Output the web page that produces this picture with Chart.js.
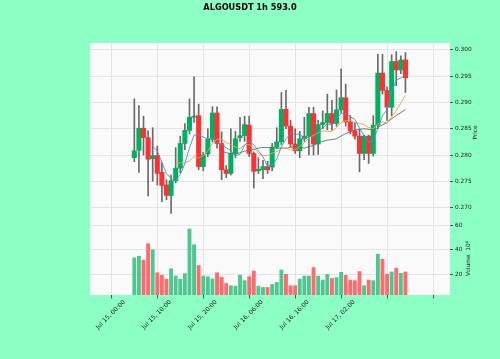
<!DOCTYPE html>
<html>
<head>
<meta charset="utf-8">
<script src="https://cdn.jsdelivr.net/npm/chart.js@4/dist/chart.umd.min.js"></script>
<style>
html,body{margin:0;padding:0;background:#8cffc4;}
canvas{display:block;}
</style>
</head>
<body>
<canvas id="c" width="500" height="359"></canvas>
<script>
const title = 'ALGOUSDT 1h 593.0';
const tickPositions = [0, 10, 20, 30, 40, 50, 60];
const tickLabels = ['Jul 15, 00:00', 'Jul 15, 10:00', 'Jul 15, 20:00', 'Jul 16, 06:00', 'Jul 16, 16:00', 'Jul 17, 02:00', ''];
const priceTicks = [0.270, 0.275, 0.280, 0.285, 0.290, 0.295, 0.300];
const volumeTicks = [20, 40, 60];
const maPeriods = [5, 10, 20];

const opens  = [0.2795,0.2809,0.2851,0.2833,0.2793,0.2799,0.2767,0.2743,0.2723,0.2751,
                0.2775,0.2822,0.2847,0.2872,0.2875,0.2778,0.2802,0.2830,0.2880,0.2822,
                0.2772,0.2765,0.2803,0.2833,0.2837,0.2857,0.2803,0.2770,0.2772,0.2778,
                0.2777,0.2815,0.2825,0.2887,0.2855,0.2821,0.2808,0.2831,0.2836,0.2879,
                0.2821,0.2858,0.2862,0.2879,0.2860,0.2886,0.2909,0.2863,0.2846,0.2836,
                0.2803,0.2836,0.2803,0.2857,0.2956,0.2923,0.2891,0.2978,0.2962,0.2981];
const highs  = [0.2907,0.2894,0.2874,0.2846,0.2852,0.2817,0.2785,0.2753,0.2762,0.2814,
                0.2836,0.2860,0.2907,0.2949,0.2897,0.2805,0.2850,0.2892,0.2892,0.2844,
                0.2780,0.2850,0.2845,0.2872,0.2874,0.2874,0.2806,0.2795,0.2790,0.2788,
                0.2822,0.2852,0.2919,0.2923,0.2866,0.2850,0.2845,0.2872,0.2891,0.2891,
                0.2866,0.2884,0.2916,0.2904,0.2924,0.2964,0.2935,0.2875,0.2862,0.2850,
                0.2838,0.2838,0.2875,0.2992,0.2992,0.2930,0.2991,0.2997,0.2989,0.2995];
const lows   = [0.2787,0.2767,0.2800,0.2722,0.2750,0.2743,0.2711,0.2715,0.2689,0.2747,
                0.2766,0.2810,0.2840,0.2862,0.2772,0.2770,0.2797,0.2825,0.2813,0.2753,
                0.2757,0.2762,0.2795,0.2826,0.2826,0.2797,0.2737,0.2765,0.2755,0.2765,
                0.2770,0.2812,0.2820,0.2850,0.2815,0.2803,0.2795,0.2826,0.2800,0.2800,
                0.2801,0.2850,0.2848,0.2847,0.2855,0.2880,0.2855,0.2840,0.2830,0.2768,
                0.2791,0.2784,0.2798,0.2850,0.2916,0.2866,0.2875,0.2932,0.2955,0.2919];
const closes = [0.2808,0.2851,0.2833,0.2792,0.2799,0.2765,0.2742,0.2723,0.2751,0.2775,
                0.2822,0.2847,0.2872,0.2874,0.2778,0.2800,0.2830,0.2880,0.2822,0.2772,
                0.2765,0.2803,0.2831,0.2837,0.2858,0.2803,0.2769,0.2773,0.2778,0.2772,
                0.2815,0.2825,0.2887,0.2855,0.2821,0.2808,0.2831,0.2836,0.2879,0.2821,
                0.2858,0.2862,0.2879,0.2860,0.2886,0.2909,0.2863,0.2846,0.2836,0.2803,
                0.2836,0.2803,0.2857,0.2956,0.2923,0.2891,0.2978,0.2962,0.2981,0.2947];
const volumes = [33.3,34.7,31.4,45.0,40.0,21.0,18.9,15.8,24.4,18.3,
                 15.6,20.3,57.2,44.2,27.0,18.3,17.8,16.0,21.0,17.3,
                 12.2,10.3,10.0,19.0,14.5,17.8,22.5,10.0,8.9,8.9,
                 11.4,13.0,23.3,19.7,10.3,10.3,15.8,18.3,18.3,25.3,
                 18.3,15.0,19.7,16.3,17.0,21.4,18.9,15.0,14.5,22.0,
                 10.3,15.0,14.5,36.4,32.2,19.7,21.7,24.7,20.5,21.7];
const volumeDir = ['u','u','d','d','u','d','d','d','u','u',
                   'u','u','u','u','d','u','u','u','d','d',
                   'd','u','u','u','u','d','d','u','u','d',
                   'u','u','u','d','d','d','u','u','u','d',
                   'u','u','u','d','u','u','d','d','d','d',
                   'u','d','u','u','d','d','u','d','u','d'];

const UP = '#00b060', DOWN = '#fe3032', WICK = '#6a6a6a';
const VUP = '#4dc790', VDOWN = '#fd6b6c';
const MA_COLORS = ['#4a94c4', '#f0a040', '#557a66'];
const GRID = '#dedede';
const FONT = '"DejaVu Sans", sans-serif';

const idx = closes.map((_, i) => i);
const wickData = idx.map(i => ({x: i, y: [lows[i], highs[i]]}));
const bodyData = idx.map(i => ({x: i, y: [opens[i], closes[i]]}));
const bodyColors = idx.map(i => closes[i] >= opens[i] ? UP : DOWN);
const volData = idx.map(i => ({x: i, y: volumes[i]}));
const volColors = volumeDir.map(d => d === 'u' ? VUP : VDOWN);

function movingAverage(p) {
  const out = [];
  for (let i = p - 1; i < closes.length; i++) {
    let s = 0;
    for (let k = i - p + 1; k <= i; k++) s += closes[k];
    out.push({x: i, y: s / p});
  }
  return out;
}

const maDatasets = maPeriods.map((p, j) => ({
  type: 'line', data: movingAverage(p), yAxisID: 'y', xAxisID: 'x',
  borderColor: MA_COLORS[j], borderWidth: 0.9, pointRadius: 0, tension: 0, order: 0
}));

const bgPlugin = {
  id: 'bg',
  beforeDraw(chart) {
    const a = chart.chartArea, ctx = chart.ctx;
    ctx.save();
    ctx.fillStyle = '#fafafa';
    ctx.fillRect(a.left, a.top, a.right - a.left, a.bottom - a.top);
    ctx.restore();
  }
};

const textPlugin = {
  id: 'texts',
  afterDraw(chart) {
    const ctx = chart.ctx;
    const yS = chart.scales.y, vS = chart.scales.yv;
    ctx.save();
    ctx.fillStyle = '#000';
    ctx.font = 'bold 8.2px ' + FONT;
    ctx.textAlign = 'center';
    ctx.textBaseline = 'alphabetic';
    ctx.fillText(title, 250, 9.5);
    ctx.fillStyle = '#222';
    ctx.font = '5.8px ' + FONT;
    ctx.textBaseline = 'middle';
    ctx.save();
    ctx.translate(475, (yS.top + yS.bottom) / 2);
    ctx.rotate(-Math.PI / 2);
    ctx.fillText('Price', 0, 0);
    ctx.restore();
    ctx.save();
    ctx.translate(468, (vS.top + vS.bottom) / 2);
    ctx.rotate(-Math.PI / 2);
    ctx.fillText('Volume  10\u2076', 0, 0);
    ctx.restore();
    ctx.restore();
  }
};

new Chart(document.getElementById('c'), {
  data: {
    datasets: [
      ...maDatasets,
      {type: 'bar', data: bodyData, yAxisID: 'y', xAxisID: 'x', backgroundColor: bodyColors,
       barThickness: 4.4, grouped: false, minBarLength: 1, order: 1},
      {type: 'bar', data: wickData, yAxisID: 'y', xAxisID: 'x', backgroundColor: WICK,
       barThickness: 1, grouped: false, order: 2},
      {type: 'bar', data: volData, yAxisID: 'yv', xAxisID: 'x', backgroundColor: volColors,
       barThickness: 3.2, grouped: false, order: 3}
    ]
  },
  options: {
    responsive: false,
    animation: false,
    events: [],
    layout: {padding: {left: 90, top: 43, right: 0, bottom: 0}},
    plugins: {legend: {display: false}, tooltip: {enabled: false}},
    scales: {
      x: {
        type: 'linear', position: 'bottom', min: -4.05, max: 63.1,
        border: {display: false},
        grid: {color: GRID, lineWidth: 0.8, tickColor: '#333', tickLength: 3.5, drawTicks: true},
        ticks: {
          font: {size: 6.1, family: FONT}, color: '#222', autoSkip: false,
          maxRotation: 45, minRotation: 45, labelOffset: -10, padding: 0,
          callback: (v) => { const k = tickPositions.indexOf(v); return k >= 0 ? tickLabels[k] : ''; }
        },
        afterBuildTicks: (s) => { s.ticks = tickPositions.map(v => ({value: v})); },
        afterFit: (s) => { s.height = 64; }
      },
      y: {
        type: 'linear', position: 'right', stack: 'panels', stackWeight: 179,
        min: 0.26725, max: 0.30133,
        border: {display: false},
        grid: {color: GRID, lineWidth: 0.8, tickColor: '#333', tickLength: 3, drawTicks: true},
        ticks: {font: {size: 5.8, family: FONT}, color: '#222', padding: 2,
                callback: (v) => Number(v).toFixed(3)},
        afterBuildTicks: (s) => { s.ticks = priceTicks.map(v => ({value: v})); },
        afterFit: (s) => { s.width = 50; }
      },
      yv: {
        type: 'linear', position: 'right', stack: 'panels', stackWeight: 73,
        min: 2.67, max: 62.92,
        border: {display: false},
        grid: {color: GRID, lineWidth: 0.8, tickColor: '#333', tickLength: 3, drawTicks: true},
        ticks: {font: {size: 5.8, family: FONT}, color: '#222', padding: 2,
                callback: (v) => String(v)},
        afterBuildTicks: (s) => { s.ticks = volumeTicks.map(v => ({value: v})); },
        afterFit: (s) => { s.width = 50; }
      }
    }
  },
  plugins: [bgPlugin, textPlugin]
});
</script>
</body>
</html>
